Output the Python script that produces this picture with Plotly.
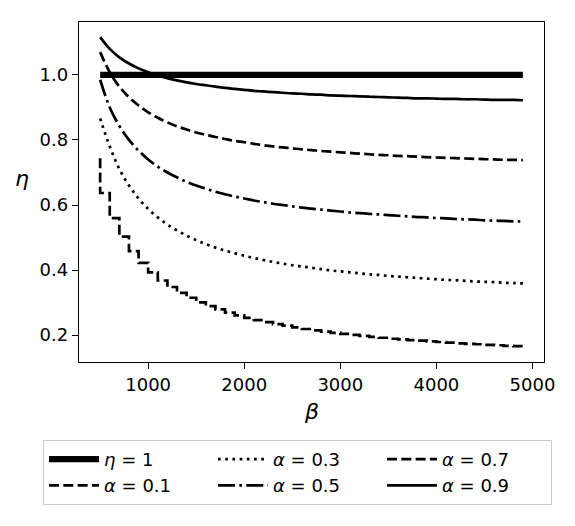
import plotly.graph_objects as go

beta = list(range(500, 5000, 100))

eta_a01 = [0.744, 0.637, 0.560, 0.503, 0.458, 0.422, 0.393, 0.368, 0.348, 0.330,
           0.315, 0.301, 0.289, 0.279, 0.269, 0.261, 0.253, 0.246, 0.240, 0.234,
           0.229, 0.224, 0.219, 0.215, 0.211, 0.207, 0.204, 0.201, 0.198, 0.195,
           0.192, 0.189, 0.187, 0.185, 0.183, 0.181, 0.179, 0.177, 0.175, 0.173,
           0.172, 0.170, 0.169, 0.167, 0.166]
eta_a03 = [0.866, 0.780, 0.711, 0.660, 0.620, 0.588, 0.562, 0.540, 0.522, 0.506,
           0.492, 0.480, 0.469, 0.460, 0.452, 0.444, 0.437, 0.431, 0.425, 0.420,
           0.415, 0.411, 0.407, 0.403, 0.399, 0.396, 0.393, 0.390, 0.387, 0.385,
           0.382, 0.380, 0.378, 0.376, 0.374, 0.372, 0.370, 0.369, 0.367, 0.365,
           0.364, 0.363, 0.361, 0.360, 0.359]
eta_a05 = [0.985, 0.900, 0.843, 0.800, 0.767, 0.740, 0.718, 0.700, 0.685, 0.671,
           0.660, 0.650, 0.641, 0.633, 0.626, 0.620, 0.614, 0.609, 0.604, 0.600,
           0.596, 0.592, 0.589, 0.586, 0.583, 0.580, 0.577, 0.575, 0.573, 0.571,
           0.569, 0.567, 0.565, 0.563, 0.562, 0.560, 0.559, 0.557, 0.556, 0.555,
           0.553, 0.552, 0.551, 0.550, 0.549]
eta_a07 = [1.070, 1.008, 0.964, 0.931, 0.906, 0.885, 0.868, 0.854, 0.842, 0.832,
           0.823, 0.816, 0.809, 0.803, 0.797, 0.793, 0.788, 0.784, 0.780, 0.777,
           0.774, 0.771, 0.769, 0.766, 0.764, 0.762, 0.760, 0.758, 0.756, 0.754,
           0.753, 0.751, 0.750, 0.749, 0.747, 0.746, 0.745, 0.744, 0.743, 0.742,
           0.741, 0.740, 0.739, 0.739, 0.738]
eta_a09 = [1.116, 1.080, 1.054, 1.035, 1.020, 1.008, 0.998, 0.990, 0.983, 0.977,
           0.972, 0.968, 0.964, 0.960, 0.957, 0.954, 0.951, 0.949, 0.947, 0.945,
           0.943, 0.942, 0.940, 0.939, 0.937, 0.936, 0.935, 0.934, 0.933, 0.932,
           0.931, 0.930, 0.929, 0.928, 0.928, 0.927, 0.926, 0.926, 0.925, 0.925,
           0.924, 0.923, 0.923, 0.923, 0.922]
eta_one = [1.0] * len(beta)

x_ticks = [1000, 2000, 3000, 4000, 5000]
y_ticks = [0.2, 0.4, 0.6, 0.8, 1.0]

FONT = "DejaVu Sans"
LW = 2.7

fig = go.Figure()
# order chosen so the horizontal legend shows matplotlib's column-major layout
fig.add_trace(go.Scatter(x=beta, y=eta_one, mode="lines", name="<i>η</i> = 1",
                         line=dict(color="black", width=6.3)))
fig.add_trace(go.Scatter(x=beta, y=eta_a03, mode="lines", name="<i>α</i> = 0.3",
                         line=dict(color="black", width=LW, dash="2.7px,4.5px", shape="spline")))
fig.add_trace(go.Scatter(x=beta, y=eta_a07, mode="lines", name="<i>α</i> = 0.7",
                         line=dict(color="black", width=LW, dash="10px,4.3px", shape="spline")))
fig.add_trace(go.Scatter(x=beta, y=eta_a01, mode="lines", name="<i>α</i> = 0.1",
                         line=dict(color="black", width=LW, dash="10px,4.3px", shape="vh")))
fig.add_trace(go.Scatter(x=beta, y=eta_a05, mode="lines", name="<i>α</i> = 0.5",
                         line=dict(color="black", width=LW, dash="17px,4.3px,2.7px,4.3px", shape="spline")))
fig.add_trace(go.Scatter(x=beta, y=eta_a09, mode="lines", name="<i>α</i> = 0.9",
                         line=dict(color="black", width=LW, shape="spline")))

axis_common = dict(showline=True, linecolor="black", linewidth=1.4, mirror=True,
                   ticks="outside", ticklen=6, tickwidth=1.4, tickcolor="black",
                   showgrid=False, zeroline=False,
                   tickfont=dict(family=FONT, size=18, color="black"))

fig.update_layout(
    width=575, height=526,
    margin=dict(l=79, r=31, t=22, b=164, autoexpand=False),
    paper_bgcolor="white", plot_bgcolor="white",
    font=dict(family=FONT, size=18, color="black"),
    xaxis=dict(range=[280, 5120], tickvals=x_ticks, ticktext=[str(v) for v in x_ticks], **axis_common),
    yaxis=dict(range=[0.1175, 1.1625], tickvals=y_ticks, ticktext=[f"{v:.1f}" for v in y_ticks], **axis_common),
    showlegend=True,
    legend=dict(orientation="h", xref="paper", yref="paper",
                x=-0.0774, xanchor="left", y=-0.229, yanchor="top",
                bordercolor="#cccccc", borderwidth=1, bgcolor="white",
                entrywidth=104, itemwidth=50,
                font=dict(family=FONT, size=18, color="black"),
                traceorder="normal"),
    annotations=[
        dict(text="<i>β</i>", xref="paper", yref="paper", x=0.5, y=-0.147,
             xanchor="center", yanchor="middle", showarrow=False,
             font=dict(family=FONT, size=22, color="black")),
        dict(text="<i>η</i>", xref="paper", yref="paper", x=-0.123, y=0.54,
             xanchor="center", yanchor="middle", showarrow=False,
             font=dict(family=FONT, size=22, color="black")),
    ],
)

fig.write_html("out.html")
